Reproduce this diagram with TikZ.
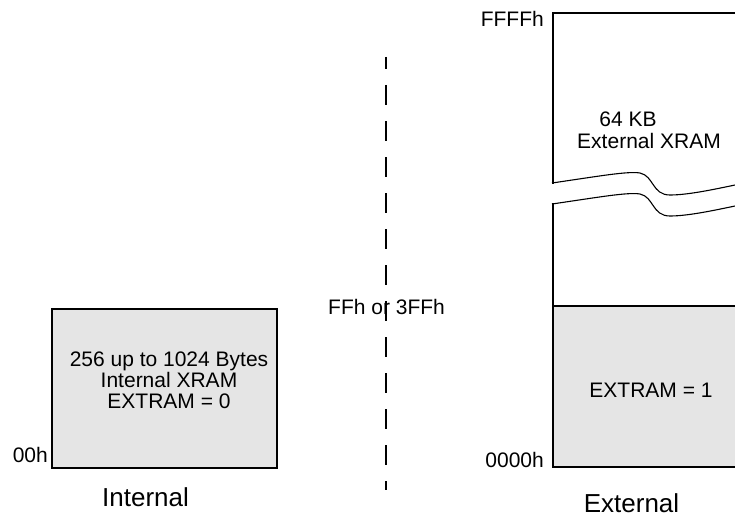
\documentclass[tikz,border=0pt]{standalone}
\usepackage{fontspec}
\setmainfont{Liberation Sans}
\tikzset{Box Line/.style = {line width = 1.8pt, line cap = rect}}
\tikzset{Break Line/.style = {line width = 1.1pt}}
\tikzset{Dash Line/.style = {line width = 2pt, dash pattern = on 20pt off 16pt, dash phase = 8pt}}
\tikzset{Mem Label/.style = {inner sep = 0, font = \fontsize{21}{21}\selectfont}}
\tikzset{Mem Name/.style = {inner sep = 0, font = \fontsize{26}{28}\selectfont}}

\begin{document}
\begin{tikzpicture}[x = 1pt, y = -1pt]
  \useasboundingbox (0, 0) rectangle (735, 516);
  \clip (0, 0) rectangle (735, 516);

  % internal block
  \coordinate (I1) at (52, 309);
  \coordinate (I2) at (277, 468);
  \draw [Box Line, fill = black!10] (I1) rectangle (I2);
  \node[Mem Label, align = center] (intxt) at (169, 380)
    {256 up to 1024 Bytes\\Internal XRAM\\EXTRAM = 0};
  \node[Mem Label, anchor = base east] (lo00) at (48, 462) {00h};
  \node[Mem Name, anchor = base] (intname) at (145.5, 506.5) {Internal};

  % separation line
  \coordinate (D1) at (386, 57);
  \coordinate (D2) at (386, 490);
  \draw [Dash Line] (D1) -- (D2);
  \node[Mem Label, anchor = base west] (hiint) at (328, 314) {FFh or 3FFh};

  % external block
  \coordinate (E1) at (553, 13);
  \coordinate (E2) at (553, 183);
  \coordinate (E3) at (553, 204);
  \coordinate (E4) at (553, 467);
  \coordinate (E5) at (553, 306);
  \fill [black!10] (E5) rectangle (745, 467);
  \draw [Box Line] (745, 13) -- (E1) -- (E2);
  \draw [Box Line] (E3) -- (E4) -- +(192, 0);
  \draw [Box Line] (E5) -- +(192, 0);

  \foreach \dy in {0, 21} {
    \draw [Break Line] (552, 183 + \dy) .. controls (600, 176 + \dy) and (628, 171 + \dy) ..
    (640, 173 + \dy) .. controls (654, 176 + \dy) and (652, 195 + \dy) ..
    (670, 195 + \dy) .. controls (690, 195 + \dy) and (720, 188 + \dy) .. (740, 184 + \dy);
  }

  \node[Mem Label, anchor = base] (kb) at (628, 126) {64 KB};
  \node[Mem Label, anchor = base] (extxt) at (649, 148) {External XRAM};
  \node[Mem Label, anchor = base east] (hiffff) at (544, 27) {FFFFh};
  \node[Mem Label, anchor = base east] (lo0000) at (544, 467) {0000h};
  \node[Mem Label, anchor = base] (extram) at (651, 397) {EXTRAM = 1};
  \node[Mem Name, anchor = base] (extname) at (631.5, 512) {External};
\end{tikzpicture}
\end{document}
